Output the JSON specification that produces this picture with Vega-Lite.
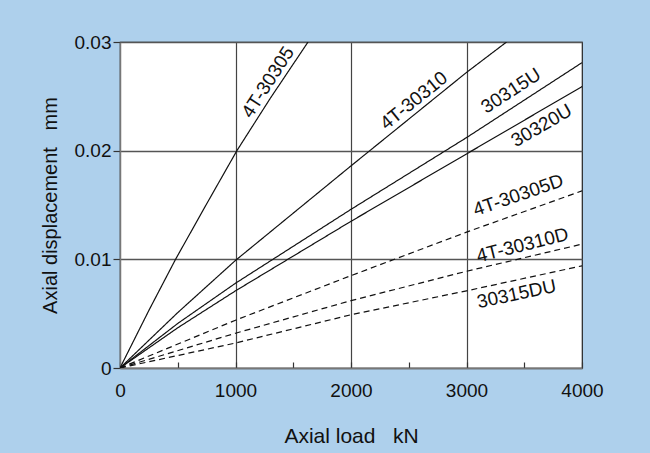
{
  "$schema": "https://vega.github.io/schema/vega-lite/v6.json",
  "autosize": "none",
  "width": 462,
  "height": 326,
  "padding": {"left": 120, "top": 42, "right": 68, "bottom": 85},
  "background": "#aed0ec",
  "view": {"fill": "white", "stroke": "#222", "strokeWidth": 1.2},
  "datasets": {
    "curves": [
      {"series": "4T-30305", "style": "solid", "load": 0, "disp": 0},
      {"series": "4T-30305", "style": "solid", "load": 250, "disp": 0.0053},
      {"series": "4T-30305", "style": "solid", "load": 481, "disp": 0.01},
      {"series": "4T-30305", "style": "solid", "load": 750, "disp": 0.0151},
      {"series": "4T-30305", "style": "solid", "load": 1012, "disp": 0.02},
      {"series": "4T-30305", "style": "solid", "load": 1300, "disp": 0.0248},
      {"series": "4T-30305", "style": "solid", "load": 1628, "disp": 0.03},
      {"series": "4T-30310", "style": "solid", "load": 0, "disp": 0},
      {"series": "4T-30310", "style": "solid", "load": 500, "disp": 0.0051},
      {"series": "4T-30310", "style": "solid", "load": 1000, "disp": 0.0099},
      {"series": "4T-30310", "style": "solid", "load": 2000, "disp": 0.0186},
      {"series": "4T-30310", "style": "solid", "load": 3000, "disp": 0.0272},
      {"series": "4T-30310", "style": "solid", "load": 3347, "disp": 0.03},
      {"series": "30315U", "style": "solid", "load": 0, "disp": 0},
      {"series": "30315U", "style": "solid", "load": 500, "disp": 0.0041},
      {"series": "30315U", "style": "solid", "load": 1000, "disp": 0.0078},
      {"series": "30315U", "style": "solid", "load": 2000, "disp": 0.0146},
      {"series": "30315U", "style": "solid", "load": 3000, "disp": 0.0212},
      {"series": "30315U", "style": "solid", "load": 4000, "disp": 0.0281},
      {"series": "30320U", "style": "solid", "load": 0, "disp": 0},
      {"series": "30320U", "style": "solid", "load": 500, "disp": 0.0037},
      {"series": "30320U", "style": "solid", "load": 1000, "disp": 0.0071},
      {"series": "30320U", "style": "solid", "load": 2000, "disp": 0.0135},
      {"series": "30320U", "style": "solid", "load": 3000, "disp": 0.0197},
      {"series": "30320U", "style": "solid", "load": 4000, "disp": 0.0259},
      {"series": "4T-30305D", "style": "dashed", "load": 0, "disp": 0},
      {"series": "4T-30305D", "style": "dashed", "load": 1000, "disp": 0.0044},
      {"series": "4T-30305D", "style": "dashed", "load": 2000, "disp": 0.0085},
      {"series": "4T-30305D", "style": "dashed", "load": 3000, "disp": 0.0125},
      {"series": "4T-30305D", "style": "dashed", "load": 4000, "disp": 0.0163},
      {"series": "4T-30310D", "style": "dashed", "load": 0, "disp": 0},
      {"series": "4T-30310D", "style": "dashed", "load": 1000, "disp": 0.0032},
      {"series": "4T-30310D", "style": "dashed", "load": 2000, "disp": 0.0062},
      {"series": "4T-30310D", "style": "dashed", "load": 3000, "disp": 0.0089},
      {"series": "4T-30310D", "style": "dashed", "load": 4000, "disp": 0.0114},
      {"series": "30315DU", "style": "dashed", "load": 0, "disp": 0},
      {"series": "30315DU", "style": "dashed", "load": 1000, "disp": 0.0023},
      {"series": "30315DU", "style": "dashed", "load": 2000, "disp": 0.0049},
      {"series": "30315DU", "style": "dashed", "load": 3000, "disp": 0.0071},
      {"series": "30315DU", "style": "dashed", "load": 4000, "disp": 0.0094}
    ],
    "labels": [
      {"series": "4T-30305", "load": 1281, "disp": 0.0263},
      {"series": "4T-30310", "load": 2544, "disp": 0.0246},
      {"series": "30315U", "load": 3385, "disp": 0.0255},
      {"series": "30320U", "load": 3651, "disp": 0.0223},
      {"series": "4T-30305D", "load": 3448, "disp": 0.0159},
      {"series": "4T-30310D", "load": 3484, "disp": 0.0113},
      {"series": "30315DU", "load": 3434, "disp": 0.0068}
    ]
  },
  "encoding": {
    "x": {
      "field": "load", "type": "quantitative",
      "scale": {"domain": [0, 4000], "nice": false, "zero": false},
      "axis": {
        "title": "Axial load\u00a0\u00a0\u00a0kN",
        "values": [0, 500, 1000, 1500, 2000, 2500, 3000, 3500, 4000],
        "format": "d",
        "labelExpr": "datum.value % 1000 === 0 ? datum.label : ''",
        "tickSize": -6,
        "tickColor": "#333",
        "tickWidth": 1.2,
        "domainColor": "#777",
        "domainWidth": 1.5,
        "grid": true,
        "gridColor": "#444",
        "gridWidth": 1.2,
        "gridOpacity": {"condition": {"test": "datum.value % 1000 === 0 && datum.value > 0 && datum.value < 4000", "value": 1}, "value": 0},
        "labelFont": "Liberation Sans, sans-serif",
        "labelFontSize": 19,
        "labelColor": "#111",
        "labelPadding": 19,
        "labelFlush": false,
        "titleFont": "Liberation Sans, sans-serif",
        "titleFontSize": 21,
        "titleFontWeight": "normal",
        "titleColor": "#111",
        "titlePadding": 25
      }
    },
    "y": {
      "field": "disp", "type": "quantitative",
      "scale": {"domain": [0, 0.03], "nice": false, "zero": false},
      "axis": {
        "title": "Axial displacement\u00a0\u00a0\u00a0mm",
        "values": [0, 0.01, 0.02, 0.03],
        "labelExpr": "datum.value === 0 ? '0' : format(datum.value, '.2f')",
        "tickSize": 7,
        "tickColor": "#333",
        "tickWidth": 1.2,
        "domainColor": "#777",
        "domainWidth": 1.5,
        "grid": true,
        "gridColor": "#555",
        "gridWidth": 1.5,
        "labelFont": "Liberation Sans, sans-serif",
        "labelFontSize": 19,
        "labelColor": "#111",
        "labelPadding": 2,
        "labelFlush": false,
        "titleFont": "Liberation Sans, sans-serif",
        "titleFontSize": 20,
        "titleFontWeight": "normal",
        "titleColor": "#111",
        "titlePadding": 14
      }
    }
  },
  "layer": [
    {
      "data": {"name": "curves"},
      "mark": {"type": "line", "color": "#111", "strokeWidth": 1.2, "clip": true},
      "encoding": {
        "detail": {"field": "series", "type": "nominal"},
        "strokeDash": {"field": "style", "type": "nominal", "scale": {"domain": ["solid", "dashed"], "range": [[1, 0], [6, 4]]}, "legend": null}
      }
    },
    {
      "data": {"name": "labels"},
      "transform": [{"filter": "datum.series === '4T-30305'"}],
      "mark": {"type": "text", "angle": -57, "align": "center", "baseline": "middle", "font": "Liberation Sans, sans-serif", "fontSize": 19, "color": "#111"},
      "encoding": {"text": {"field": "series"}}
    },
    {
      "data": {"name": "labels"},
      "transform": [{"filter": "datum.series === '4T-30310'"}],
      "mark": {"type": "text", "angle": -39, "align": "center", "baseline": "middle", "font": "Liberation Sans, sans-serif", "fontSize": 19, "color": "#111"},
      "encoding": {"text": {"field": "series"}}
    },
    {
      "data": {"name": "labels"},
      "transform": [{"filter": "datum.series === '30315U'"}],
      "mark": {"type": "text", "angle": -33, "align": "center", "baseline": "middle", "font": "Liberation Sans, sans-serif", "fontSize": 19, "color": "#111"},
      "encoding": {"text": {"field": "series"}}
    },
    {
      "data": {"name": "labels"},
      "transform": [{"filter": "datum.series === '30320U'"}],
      "mark": {"type": "text", "angle": -30, "align": "center", "baseline": "middle", "font": "Liberation Sans, sans-serif", "fontSize": 19, "color": "#111"},
      "encoding": {"text": {"field": "series"}}
    },
    {
      "data": {"name": "labels"},
      "transform": [{"filter": "datum.series === '4T-30305D'"}],
      "mark": {"type": "text", "angle": -19, "align": "center", "baseline": "middle", "font": "Liberation Sans, sans-serif", "fontSize": 19, "color": "#111"},
      "encoding": {"text": {"field": "series"}}
    },
    {
      "data": {"name": "labels"},
      "transform": [{"filter": "datum.series === '4T-30310D'"}],
      "mark": {"type": "text", "angle": -14, "align": "center", "baseline": "middle", "font": "Liberation Sans, sans-serif", "fontSize": 19, "color": "#111"},
      "encoding": {"text": {"field": "series"}}
    },
    {
      "data": {"name": "labels"},
      "transform": [{"filter": "datum.series === '30315DU'"}],
      "mark": {"type": "text", "angle": -12, "align": "center", "baseline": "middle", "font": "Liberation Sans, sans-serif", "fontSize": 19, "color": "#111"},
      "encoding": {"text": {"field": "series"}}
    }
  ]
}
